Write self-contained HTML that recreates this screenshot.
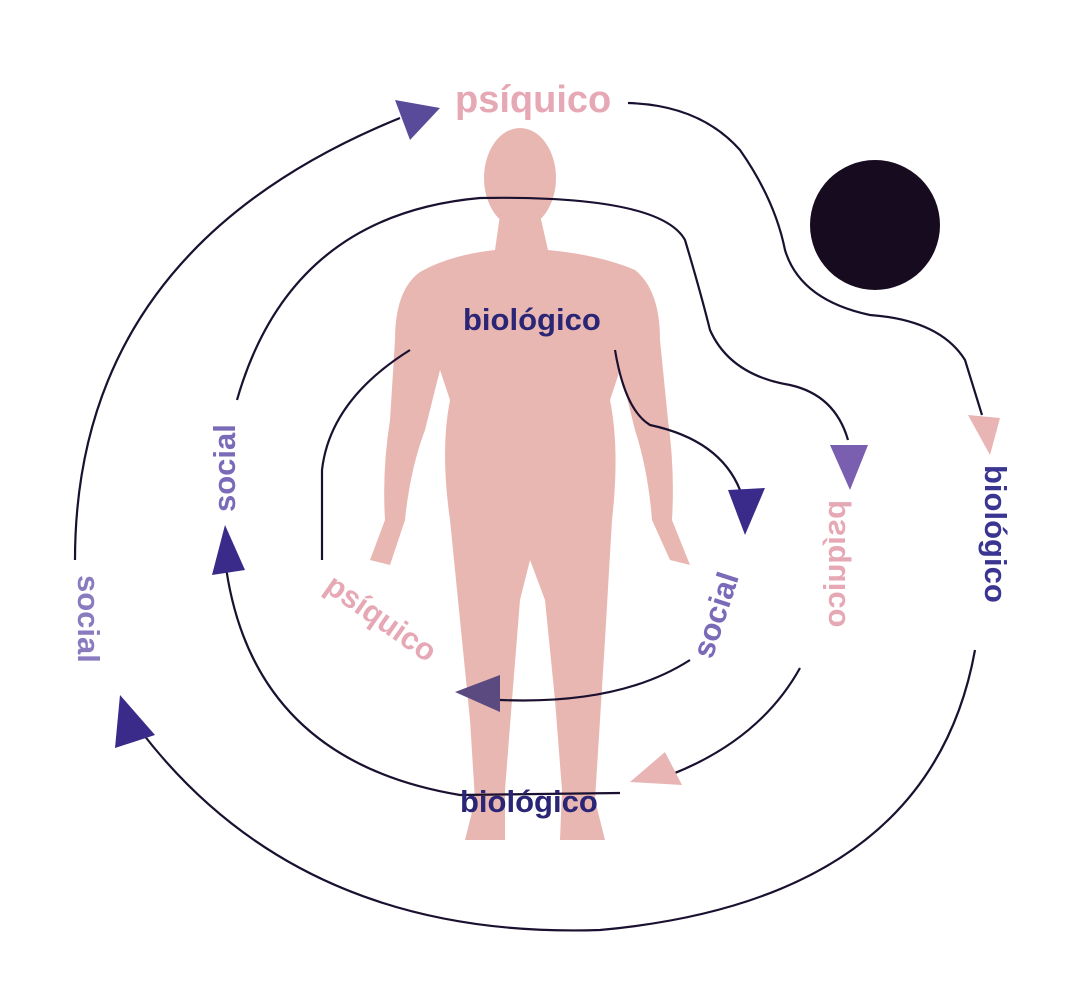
<!DOCTYPE html>
<html><head><meta charset="utf-8"><style>
html,body{margin:0;padding:0;background:#fff;}
svg{display:block}
text{font-family:"Liberation Sans",sans-serif;font-weight:bold;}
</style></head><body>
<svg width="1070" height="1000" viewBox="0 0 1070 1000">
<g fill="#e9b7b1">
<ellipse cx="520" cy="178" rx="36" ry="50"/>
<path d="M500 215 L540 215 L548 250 Q600 255 635 270 Q660 290 660 340 L668 420 Q675 470 672 520 L690 565 L670 560 L652 520 Q648 470 635 430 L620 370 L610 400 Q620 450 612 520 L605 640 L600 720 L595 800 L605 840 L560 840 L562 790 L555 700 L545 600 L530 560 L520 600 L512 700 L505 790 L505 840 L465 840 L475 800 L470 720 L462 640 L450 520 Q440 450 450 400 L440 370 L425 430 Q410 470 405 520 L390 565 L370 560 L385 520 Q382 470 390 420 L395 340 Q395 290 420 272 Q450 255 495 250 Z"/>
</g>
<circle cx="875" cy="225" r="65" fill="#170b1f"/>
<g fill="none" stroke="#1a1030" stroke-width="2.2">
<path d="M75 560 Q75 250 400 118"/>
<path d="M975 650 Q930 900 600 930 Q300 940 140 730"/>
<path d="M628 103 Q700 105 740 150 Q775 200 785 250 Q800 300 870 315 Q940 320 965 360 L982 415"/>
<path d="M237 400 Q290 215 480 198 Q660 195 685 240 Q700 290 710 330 Q730 375 790 385 Q835 395 848 440"/>
<path d="M225 560 Q250 760 460 795 L620 793"/>
<path d="M800 668 Q760 740 670 775"/>
<path d="M410 350 Q330 400 322 470 L322 560"/>
<path d="M615 350 Q625 410 650 425 Q720 440 740 490"/>
<path d="M690 660 Q620 705 500 700"/>
</g>
<polygon points="440,108 395,100 410,140" fill="#5a4a9a"/>
<polygon points="990,455 968,415 1000,418" fill="#e9b4b4"/>
<polygon points="850,490 830,445 868,445" fill="#7a5fb0"/>
<polygon points="745,535 728,490 765,488" fill="#3a2a8a"/>
<polygon points="225,525 212,575 245,570" fill="#3a2a8a"/>
<polygon points="120,695 115,748 155,735" fill="#3a2a8a"/>
<polygon points="455,692 500,675 500,712" fill="#5a4a80"/>
<polygon points="630,782 665,752 682,785" fill="#e9b4b4"/>
<text x="455" y="112" font-size="38" fill="#e6a8b4">psíquico</text>
<text x="463" y="330" font-size="31" fill="#2a2575">biológico</text>
<text x="460" y="812" font-size="31" fill="#2a2575">biológico</text>
<text transform="translate(235,512) rotate(-90)" font-size="31" fill="#7a6ab8">social</text>
<text transform="translate(78,575) rotate(90)" font-size="31" fill="#8a7ac0">social</text>
<text transform="translate(323,590) rotate(35)" font-size="31" fill="#e6a8b4">psíquico</text>
<text transform="translate(712,660) rotate(-72)" font-size="31" fill="#7a6ab8">social</text>
<text transform="translate(823,500) rotate(90) scale(1,-1) translate(0,22)" font-size="31" fill="#e6a8b4">psíquico</text>
<text transform="translate(985,465) rotate(90)" font-size="31" fill="#3a3590">biológico</text>
</svg>
</body></html>
